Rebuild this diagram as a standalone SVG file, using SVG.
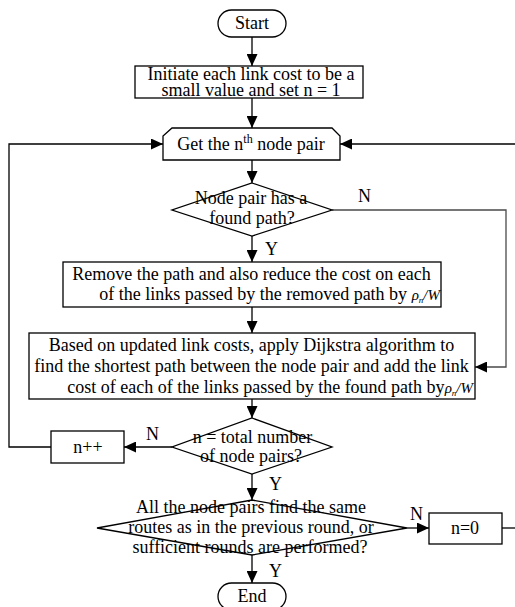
<svg xmlns="http://www.w3.org/2000/svg" width="515" height="607" viewBox="0 0 515 607">
<style>
  .sh { fill: #fff; stroke: #000; stroke-width: 1.3; }
  .t { font-family: "Liberation Serif", "Times New Roman", serif; font-size: 18px; fill: #000; }
  .c { text-anchor: middle; }
  .e { text-anchor: end; }
  .m { font-family: "Liberation Serif", "Times New Roman", serif; font-style: italic; }
  .ln { fill: none; stroke: #000; stroke-width: 1.3; }
  .g { stroke: #4a4a4a; }
</style>
<defs>
  <marker id="arr" viewBox="0 0 12 11" refX="12" refY="5.5" markerWidth="12" markerHeight="11" markerUnits="userSpaceOnUse" orient="auto">
    <path d="M0,0 L12,5.5 L0,11 z" fill="#000"/>
  </marker>
</defs>
<rect width="515" height="607" fill="#fff"/>

<g id="connectors">
  <path class="ln" d="M252,37 V66" marker-end="url(#arr)"/>
  <path class="ln" d="M252,98 V128" marker-end="url(#arr)"/>
  <path class="ln" d="M252,160 V183" marker-end="url(#arr)"/>
  <path class="ln" d="M252,236 V262" marker-end="url(#arr)"/>
  <path class="ln" d="M252,307 V333" marker-end="url(#arr)"/>
  <path class="ln" d="M252,399 V418" marker-end="url(#arr)"/>
  <path class="ln" d="M172,447 H124" marker-end="url(#arr)"/>
  <path class="ln" d="M51,447 H9 V144 H163" marker-end="url(#arr)"/>
  <path class="ln g" d="M332,210 H506 V367 H475" marker-end="url(#arr)"/>
  <path class="ln" d="M252,474 V500" marker-end="url(#arr)"/>
  <path class="ln" d="M407,528 H429" marker-end="url(#arr)"/>
  <path class="ln" d="M502,528 H516"/>
  <path class="ln" d="M516,144 H340" marker-end="url(#arr)"/>
  <path class="ln" d="M252,555 V583" marker-end="url(#arr)"/>
  <text class="t" x="358" y="202">N</text>
  <text class="t" x="265" y="255">Y</text>
  <text class="t" x="146" y="440">N</text>
  <text class="t" x="269" y="490">Y</text>
  <text class="t" x="410" y="520">N</text>
  <text class="t" x="269" y="577">Y</text>
</g>

<g id="start">
  <rect class="sh" x="218" y="10" width="68" height="27" rx="13.5"/>
  <text class="t c" x="252" y="29">Start</text>
</g>

<g id="init">
  <rect class="sh" x="135" y="66" width="228" height="32"/>
  <text class="t c" x="251" y="80" font-size="17.5">Initiate each link cost to be a</text>
  <text class="t c" x="251" y="96" font-size="17.5">small value and set n = 1</text>
</g>

<g id="get-pair">
  <polygon class="sh" points="172,128 332,128 340,136 340,160 163,160 163,136"/>
  <text class="t c" x="251" y="150">Get the n<tspan font-size="12" dy="-7">th</tspan><tspan dy="7"> node pair</tspan></text>
</g>

<g id="has-path">
  <polygon class="sh" points="252,183 332,210 252,236 172,210"/>
  <text class="t c" x="251" y="204">Node pair has a</text>
  <text class="t c" x="252" y="224">found path?</text>
</g>

<g id="remove">
  <rect class="sh" x="63" y="262" width="378" height="45"/>
  <text class="t c" x="251.5" y="280">Remove the path and also reduce the cost on each</text>
  <text class="t e" x="440" y="300">of the links passed by the removed path by <tspan class="m" font-size="15">ρ</tspan><tspan class="m" font-size="9" dy="3">n</tspan><tspan class="m" font-size="15" dy="-3">/W</tspan></text>
</g>

<g id="dijkstra">
  <rect class="sh" x="29" y="333" width="446" height="66"/>
  <text class="t c" x="251.5" y="351">Based on updated link costs, apply Dijkstra algorithm to</text>
  <text class="t c" x="251.5" y="372">find the shortest path between the node pair and add the link</text>
  <text class="t e" x="473" y="393">cost of each of the links passed by the found path by<tspan class="m" font-size="15">ρ</tspan><tspan class="m" font-size="9" dy="3">n</tspan><tspan class="m" font-size="15" dy="-3">/W</tspan></text>
</g>

<g id="total-check">
  <polygon class="sh" points="252,418 332,447 252,474 172,447"/>
  <text class="t c" x="252.5" y="443">n = total number</text>
  <text class="t c" x="251" y="462">of node pairs?</text>
</g>

<g id="incr">
  <rect class="sh" x="51" y="431" width="73" height="32"/>
  <text class="t c" x="88" y="453">n++</text>
</g>

<g id="same-routes">
  <polygon class="sh" points="252,500 407,528 252,555 97,528"/>
  <text class="t c" x="251" y="513">All the node pairs find the same</text>
  <text class="t c" x="251" y="533">routes as in the previous round, or</text>
  <text class="t c" x="250" y="553">sufficient rounds are performed?</text>
</g>

<g id="reset">
  <rect class="sh" x="429" y="513" width="73" height="31"/>
  <text class="t c" x="465" y="534">n=0</text>
</g>

<g id="end">
  <rect class="sh" x="218" y="583" width="68" height="27" rx="13.5"/>
  <text class="t c" x="252" y="602">End</text>
</g>
</svg>
